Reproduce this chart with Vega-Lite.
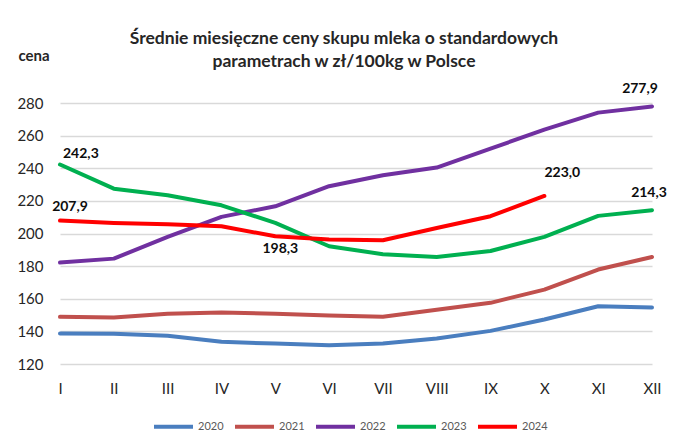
{
  "$schema": "https://vega.github.io/schema/vega-lite/v6.json",
  "autosize": "none",
  "width": 592,
  "height": 261,
  "padding": {"left": 60, "top": 103, "right": 26, "bottom": 80},
  "background": "white",
  "config": {
    "font": "Lato",
    "view": {"stroke": null}
  },
  "title": {
    "text": ["Średnie miesięczne ceny  skupu mleka o standardowych", "parametrach  w zł/100kg w Polsce"],
    "fontSize": 17.5,
    "fontWeight": "bold",
    "color": "#262626",
    "anchor": "middle",
    "dx": -12,
    "offset": -22,
    "lineHeight": 23
  },
  "datasets": {
    "prices": [
      {"month": "I", "year": "2020", "price": 138.7},
      {"month": "II", "year": "2020", "price": 138.5},
      {"month": "III", "year": "2020", "price": 137.3},
      {"month": "IV", "year": "2020", "price": 133.6},
      {"month": "V", "year": "2020", "price": 132.5},
      {"month": "VI", "year": "2020", "price": 131.5},
      {"month": "VII", "year": "2020", "price": 132.5},
      {"month": "VIII", "year": "2020", "price": 135.6},
      {"month": "IX", "year": "2020", "price": 140.3},
      {"month": "X", "year": "2020", "price": 147.3},
      {"month": "XI", "year": "2020", "price": 155.4},
      {"month": "XII", "year": "2020", "price": 154.6},
      {"month": "I", "year": "2021", "price": 148.9},
      {"month": "II", "year": "2021", "price": 148.5},
      {"month": "III", "year": "2021", "price": 150.8},
      {"month": "IV", "year": "2021", "price": 151.5},
      {"month": "V", "year": "2021", "price": 150.8},
      {"month": "VI", "year": "2021", "price": 149.7},
      {"month": "VII", "year": "2021", "price": 148.9},
      {"month": "VIII", "year": "2021", "price": 153.2},
      {"month": "IX", "year": "2021", "price": 157.5},
      {"month": "X", "year": "2021", "price": 165.6},
      {"month": "XI", "year": "2021", "price": 177.9},
      {"month": "XII", "year": "2021", "price": 185.6},
      {"month": "I", "year": "2022", "price": 182.2},
      {"month": "II", "year": "2022", "price": 184.6},
      {"month": "III", "year": "2022", "price": 197.9},
      {"month": "IV", "year": "2022", "price": 210.2},
      {"month": "V", "year": "2022", "price": 216.7},
      {"month": "VI", "year": "2022", "price": 229.0},
      {"month": "VII", "year": "2022", "price": 235.7},
      {"month": "VIII", "year": "2022", "price": 240.4},
      {"month": "IX", "year": "2022", "price": 252.0},
      {"month": "X", "year": "2022", "price": 263.7},
      {"month": "XI", "year": "2022", "price": 274.1},
      {"month": "XII", "year": "2022", "price": 277.9},
      {"month": "I", "year": "2023", "price": 242.3},
      {"month": "II", "year": "2023", "price": 227.5},
      {"month": "III", "year": "2023", "price": 223.4},
      {"month": "IV", "year": "2023", "price": 217.3},
      {"month": "V", "year": "2023", "price": 206.5},
      {"month": "VI", "year": "2023", "price": 192.2},
      {"month": "VII", "year": "2023", "price": 187.3},
      {"month": "VIII", "year": "2023", "price": 185.6},
      {"month": "IX", "year": "2023", "price": 189.3},
      {"month": "X", "year": "2023", "price": 197.9},
      {"month": "XI", "year": "2023", "price": 210.8},
      {"month": "XII", "year": "2023", "price": 214.3},
      {"month": "I", "year": "2024", "price": 207.9},
      {"month": "II", "year": "2024", "price": 206.5},
      {"month": "III", "year": "2024", "price": 205.7},
      {"month": "IV", "year": "2024", "price": 204.4},
      {"month": "V", "year": "2024", "price": 198.3},
      {"month": "VI", "year": "2024", "price": 196.3},
      {"month": "VII", "year": "2024", "price": 195.9},
      {"month": "VIII", "year": "2024", "price": 203.4},
      {"month": "IX", "year": "2024", "price": 210.6},
      {"month": "X", "year": "2024", "price": 223.0}
    ],
    "labels": [
      {"month": "I", "year": "2023", "price": 242.3, "label": "242,3"},
      {"month": "I", "year": "2024", "price": 207.9, "label": "207,9"},
      {"month": "V", "year": "2024", "price": 198.3, "label": "198,3"},
      {"month": "X", "year": "2024", "price": 223.0, "label": "223,0"},
      {"month": "XII", "year": "2023", "price": 214.3, "label": "214,3"},
      {"month": "XII", "year": "2022", "price": 277.9, "label": "277,9"}
    ]
  },
  "encoding": {
    "x": {
      "field": "month",
      "type": "ordinal",
      "sort": ["I", "II", "III", "IV", "V", "VI", "VII", "VIII", "IX", "X", "XI", "XII"],
      "scale": {"type": "point", "padding": 0},
      "axis": {
        "title": null,
        "labelAngle": 0,
        "labelFontSize": 15,
        "labelFont": "Lato",
        "labelColor": "#262626",
        "labelPadding": 17,
        "domain": false,
        "ticks": false,
        "grid": false
      }
    },
    "y": {
      "field": "price",
      "type": "quantitative",
      "scale": {"domain": [120, 280], "nice": false, "zero": false},
      "axis": {
        "values": [120, 140, 160, 180, 200, 220, 240, 260, 280],
        "title": "cena",
        "titleAngle": 0,
        "titleAlign": "left",
        "titleBaseline": "middle",
        "titleX": -42,
        "titleY": -48,
        "titleFontSize": 15,
        "titleFontWeight": "bold",
        "titleColor": "#262626",
        "labelFontSize": 15,
        "labelColor": "#262626",
        "labelPadding": 17,
        "domain": false,
        "ticks": false,
        "gridColor": "#d9d9d9",
        "gridWidth": 1.5
      }
    }
  },
  "layer": [
    {
      "data": {"name": "prices"},
      "mark": {"type": "line", "strokeWidth": 4, "interpolate": "linear", "strokeJoin": "round", "strokeCap": "round"},
      "encoding": {
        "color": {
          "field": "year",
          "type": "nominal",
          "scale": {
            "domain": ["2020", "2021", "2022", "2023", "2024"],
            "range": ["#4a7ebf", "#c0504d", "#7030a0", "#00b050", "#ff0000"]
          },
          "legend": {
            "title": null,
            "orient": "none",
            "direction": "horizontal",
            "legendX": 92,
            "legendY": 302,
            "symbolType": "stroke",
            "symbolSize": 1521,
            "symbolStrokeWidth": 4,
            "labelFontSize": 11,
            "labelColor": "#595959",
            "labelOffset": 3,
            "columnPadding": 3
          }
        }
      }
    },
    {
      "data": {"name": "labels"},
      "transform": [{"filter": "datum.label == '242,3'"}],
      "mark": {"type": "text", "fontSize": 14, "fontWeight": "bold", "color": "#0d0d0d", "align": "left", "dx": 3, "dy": -10},
      "encoding": {"text": {"field": "label"}}
    },
    {
      "data": {"name": "labels"},
      "transform": [{"filter": "datum.label == '207,9'"}],
      "mark": {"type": "text", "fontSize": 14, "fontWeight": "bold", "color": "#0d0d0d", "align": "center", "dx": 10, "dy": -14},
      "encoding": {"text": {"field": "label"}}
    },
    {
      "data": {"name": "labels"},
      "transform": [{"filter": "datum.label == '198,3'"}],
      "mark": {"type": "text", "fontSize": 14, "fontWeight": "bold", "color": "#0d0d0d", "align": "center", "dx": 5, "dy": 13},
      "encoding": {"text": {"field": "label"}}
    },
    {
      "data": {"name": "labels"},
      "transform": [{"filter": "datum.label == '223,0'"}],
      "mark": {"type": "text", "fontSize": 14, "fontWeight": "bold", "color": "#0d0d0d", "align": "center", "dx": 18, "dy": -23},
      "encoding": {"text": {"field": "label"}}
    },
    {
      "data": {"name": "labels"},
      "transform": [{"filter": "datum.label == '214,3'"}],
      "mark": {"type": "text", "fontSize": 14, "fontWeight": "bold", "color": "#0d0d0d", "align": "center", "dx": -3, "dy": -17},
      "encoding": {"text": {"field": "label"}}
    },
    {
      "data": {"name": "labels"},
      "transform": [{"filter": "datum.label == '277,9'"}],
      "mark": {"type": "text", "fontSize": 14, "fontWeight": "bold", "color": "#0d0d0d", "align": "center", "dx": -12, "dy": -17},
      "encoding": {"text": {"field": "label"}}
    }
  ]
}
